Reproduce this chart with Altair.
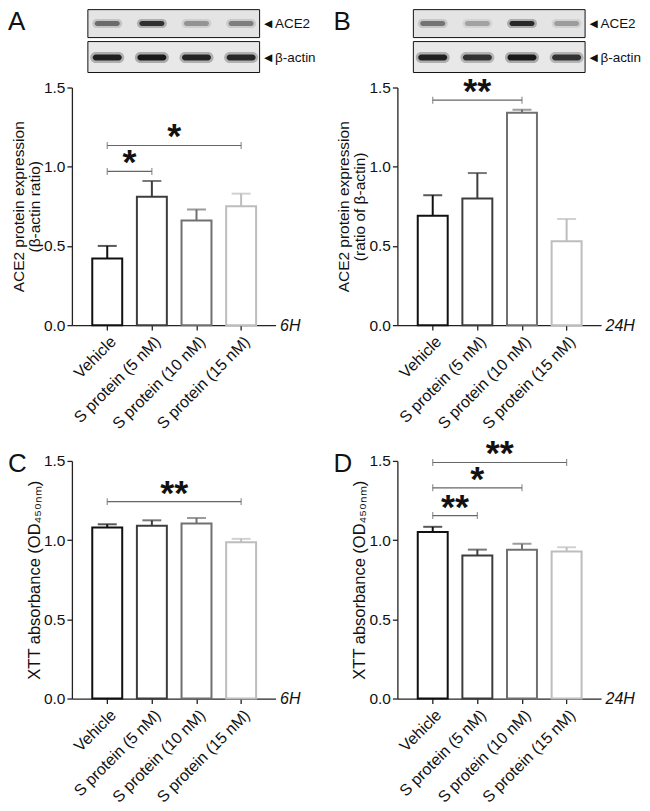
import altair as alt
import pandas as pd

# ---------------- data ----------------
groups = ["Vehicle", "S protein (5 nM)", "S protein (10 nM)", "S protein (15 nM)"]
pos = [0, 1, 2, 3]
colors = ["#111111", "#3d3d3d", "#707070", "#bdbdbd"]

# bar heights and top of error bars (mean + SEM)
a_mean = [0.42, 0.81, 0.66, 0.75]
a_err = [0.50, 0.91, 0.73, 0.83]
b_mean = [0.69, 0.80, 1.34, 0.53]
b_err = [0.82, 0.96, 1.36, 0.67]
c_mean = [1.08, 1.09, 1.105, 0.987]
c_err = [1.10, 1.125, 1.14, 1.008]
d_mean = [1.052, 0.903, 0.94, 0.928]
d_err = [1.084, 0.94, 0.977, 0.955]

# significance brackets
a_sig_from, a_sig_to, a_sig_y, a_sig_lab = [0, 0], [1, 3], [0.97, 1.134], ["*", "*"]
b_sig_from, b_sig_to, b_sig_y, b_sig_lab = [0], [2], [1.42], ["**"]
c_sig_from, c_sig_to, c_sig_y, c_sig_lab = [0], [3], [1.243], ["**"]
d_sig_from, d_sig_to, d_sig_y, d_sig_lab = [0, 0, 0], [1, 2, 3], [1.155, 1.33, 1.49], ["**", "*", "**"]

# western blot band intensities (0-1) per lane
a_ace2 = [0.55, 0.9, 0.35, 0.45]
a_actin = [0.9, 0.95, 0.88, 0.85]
b_ace2 = [0.5, 0.28, 0.95, 0.3]
b_actin = [0.9, 0.8, 0.95, 0.8]
blot_labels = ["◄ACE2", "◄β-actin"]

y_ticks = [0, 0.5, 1.0, 1.5]

W, H = 204, 238
XDOM = [-0.68, 3.66]
FONT = "Liberation Sans"
LABEL_EXPR = "[" + ",".join("'" + g + "'" for g in groups) + "][datum.value]"


def panel(letter, mean, err, sf, st, sy, sl, ytitle, ytitle_size, time, letter_y, blot=None):
    df = pd.DataFrame({"pos": pos, "group": groups, "mean": mean, "err": err})
    xscale = alt.Scale(domain=XDOM, nice=False, zero=False)
    yscale = alt.Scale(domain=[0, 1.5], nice=False)
    cscale = alt.Scale(domain=groups, range=colors)

    x_main = alt.X(
        "pos:Q", scale=xscale,
        axis=alt.Axis(values=pos, labelExpr=LABEL_EXPR, labelAngle=-45, labelFontSize=16,
                      labelOverlap=False, labelPadding=3, tickSize=5, grid=False, title=time,
                      titleX=W + 4, titleY=0, titleAngle=0, titleAlign="left",
                      titleBaseline="middle", titleFontStyle="italic", titleFontWeight="normal",
                      titleFontSize=16),
    )
    y_main = alt.Y(
        "mean:Q", scale=yscale,
        axis=alt.Axis(values=y_ticks, format=".1f", labelFontSize=15.5, tickSize=5,
                      labelPadding=2, grid=False, title=ytitle, titleFontSize=ytitle_size,
                      titleFontWeight="normal", titlePadding=1, titleLineHeight=16),
    )
    xn = lambda f: alt.X(f, scale=xscale)
    yn = lambda f: alt.Y(f, scale=yscale)

    base = alt.Chart(df)
    bars = base.mark_bar(width=30, fill="white", strokeWidth=2).encode(
        x=x_main, y=y_main,
        stroke=alt.Stroke("group:N", scale=cscale, legend=None),
    )
    errs = base.mark_rule(strokeWidth=2).encode(
        x=xn("pos:Q"), y=yn("mean:Q"), y2="err:Q",
        color=alt.Color("group:N", scale=cscale, legend=None),
    )
    caps = base.mark_tick(orient="horizontal", size=19, thickness=2).encode(
        x=xn("pos:Q"), y=yn("err:Q"),
        color=alt.Color("group:N", scale=cscale, legend=None),
    )

    sig = pd.DataFrame({
        "x1": [pos[i] for i in sf], "x2": [pos[j] for j in st], "y": sy, "label": sl,
    })
    sbase = alt.Chart(sig).transform_calculate(mid="(datum.x1 + datum.x2) / 2")
    lines = sbase.mark_rule(color="#666666", strokeWidth=1.2).encode(
        x=xn("x1:Q"), x2="x2:Q", y=yn("y:Q"))
    cap1 = sbase.mark_tick(orient="vertical", size=7, thickness=1.2, color="#666666").encode(
        x=xn("x1:Q"), y=yn("y:Q"))
    cap2 = sbase.mark_tick(orient="vertical", size=7, thickness=1.2, color="#666666").encode(
        x=xn("x2:Q"), y=yn("y:Q"))
    stars = sbase.mark_text(fontSize=36, fontWeight="bold", dy=3, baseline="alphabetic",
                            color="#111111", font=FONT).encode(
        x=xn("mid:Q"), y=yn("y:Q"), text="label:N")

    lt = alt.Chart(pd.DataFrame({"t": [letter]})).mark_text(
        fontSize=26, align="left", baseline="alphabetic", font=FONT, color="#111111"
    ).encode(x=alt.value(-64), y=alt.value(letter_y), text="t:N")

    layers = []
    if blot is not None:
        ace2, actin = blot
        one = pd.DataFrame({"k": [0]})
        box1 = alt.Chart(one).mark_rect(fill="#e4e4e4", stroke="#111111", strokeWidth=1).encode(
            x=alt.value(16), x2=alt.value(188), y=alt.value(-78), y2=alt.value(-50))
        box2 = alt.Chart(one).mark_rect(fill="#e8e8e8", stroke="#111111", strokeWidth=1).encode(
            x=alt.value(16), x2=alt.value(188), y=alt.value(-46), y2=alt.value(-15))
        bands = pd.DataFrame({"pos": pos, "ace2": ace2, "actin": actin})
        bb = alt.Chart(bands).transform_calculate(
            ace2_soft="datum.ace2 * 0.3", actin_soft="datum.actin * 0.3")
        b1o = bb.mark_tick(orient="horizontal", size=30, thickness=9, color="#222222",
                           cornerRadius=4.5).encode(
            x=xn("pos:Q"), y=alt.value(-64), opacity=alt.Opacity("ace2_soft:Q", scale=None))
        b1i = bb.mark_tick(orient="horizontal", size=25, thickness=5, color="#222222",
                           cornerRadius=2.5).encode(
            x=xn("pos:Q"), y=alt.value(-64), opacity=alt.Opacity("ace2:Q", scale=None))
        b2o = bb.mark_tick(orient="horizontal", size=34, thickness=11, color="#111111",
                           cornerRadius=5.5).encode(
            x=xn("pos:Q"), y=alt.value(-30), opacity=alt.Opacity("actin_soft:Q", scale=None))
        b2i = bb.mark_tick(orient="horizontal", size=29, thickness=6, color="#111111",
                           cornerRadius=3).encode(
            x=xn("pos:Q"), y=alt.value(-30), opacity=alt.Opacity("actin:Q", scale=None))
        labs = pd.DataFrame({"t": blot_labels})
        bl1 = alt.Chart(labs.iloc[[0]]).mark_text(
            fontSize=13.5, align="left", baseline="middle", font=FONT, color="#111111"
        ).encode(x=alt.value(190), y=alt.value(-64), text="t:N")
        bl2 = alt.Chart(labs.iloc[[1]]).mark_text(
            fontSize=13.5, align="left", baseline="middle", font=FONT, color="#111111"
        ).encode(x=alt.value(190), y=alt.value(-30), text="t:N")
        layers = [box1, box2, b1o, b1i, b2o, b2i, bl1, bl2]

    return alt.layer(bars, errs, caps, lines, cap1, cap2, stars, lt, *layers).properties(
        width=W, height=H)


ace_title_a = ["ACE2 protein expression", "(β-actin ratio)"]
ace_title_b = ["ACE2 protein expression", "(ratio of β-actin)"]
xtt_title = "XTT absorbance (OD₄₅₀ₙₘ)"

pA = panel("A", a_mean, a_err, a_sig_from, a_sig_to, a_sig_y, a_sig_lab, ace_title_a, 15.5,
           "6H", -58, blot=(a_ace2, a_actin))
pB = panel("B", b_mean, b_err, b_sig_from, b_sig_to, b_sig_y, b_sig_lab, ace_title_b, 15.5,
           "24H", -58, blot=(b_ace2, b_actin))
pC = panel("C", c_mean, c_err, c_sig_from, c_sig_to, c_sig_y, c_sig_lab, xtt_title, 16.5,
           "6H", 11)
pD = panel("D", d_mean, d_err, d_sig_from, d_sig_to, d_sig_y, d_sig_lab, xtt_title, 16.5,
           "24H", 11)

chart = alt.concat(
    pA, pB, pC, pD, columns=2, bounds="flush", spacing={"row": 136, "column": 122}
).properties(
    padding={"left": 0, "top": 0, "right": 0, "bottom": 0}
).configure(font=FONT).configure_view(stroke=None).configure_axis(
    domainColor="#222222", tickColor="#222222", labelColor="#111111", titleColor="#111111",
    domainWidth=1.3, tickWidth=1.3, labelFont=FONT, titleFont=FONT,
)

chart.save("out.html", embed_options={"renderer": "svg", "actions": False})
